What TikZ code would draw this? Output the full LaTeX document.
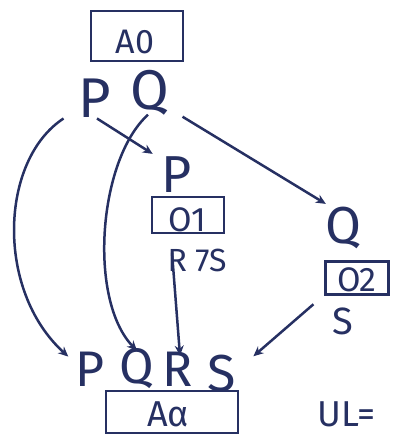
\documentclass[tikz,border=0pt]{standalone}
\usepackage{fontspec}
\setmainfont{Fira Sans}
\usetikzlibrary{arrows.meta}
\definecolor{ink}{RGB}{38,48,98}
\tikzset{
  lbl/.style={text=ink, inner sep=1pt},
  frame/.style={draw=ink, line width=2.5pt, inner sep=0pt},
  arr/.style={draw=ink, line width=2.5pt, -{Stealth[length=10pt,width=9pt]}},
}
\begin{document}
\begin{tikzpicture}[x=1pt,y=-1pt]
\useasboundingbox (0,0) rectangle (396,437);
% top box
\node[frame, minimum width=92pt, minimum height=50pt] (a0box) at (137,36) {};
\node[lbl, font=\fontsize{34}{36}\selectfont] (a0) at (135,42) {A0};
\node[lbl, font=\fontsize{56}{58}\selectfont] (pt) at (95,98) {P};
\node[lbl, font=\fontsize{56}{58}\selectfont] (qt) at (150,93) {Q};
% middle
\node[lbl, font=\fontsize{52}{54}\selectfont] (p2) at (177,175) {P};
\node[frame, minimum width=72pt, minimum height=36pt] (o1box) at (188,215) {};
\node[lbl, font=\fontsize{34}{36}\selectfont] (o1) at (187,220) {O1};
\node[lbl, font=\fontsize{32}{34}\selectfont] (r7s) at (197,260) {R 7S};
% right
\node[lbl, font=\fontsize{52}{54}\selectfont] (q2) at (343,228) {Q};
\node[frame, minimum width=63pt, minimum height=33pt] (o2box) at (357,278) {};
\node[lbl, font=\fontsize{34}{36}\selectfont] (o2) at (357,280) {O2};
\node[lbl, font=\fontsize{38}{40}\selectfont] (s2) at (343,321) {S};
% bottom
\node[lbl, font=\fontsize{50}{52}\selectfont] (pb) at (90,369) {P};
\node[lbl, font=\fontsize{50}{52}\selectfont] (qb) at (137,369) {Q};
\node[lbl, font=\fontsize{50}{52}\selectfont] (rb) at (178,369) {R};
\node[lbl, font=\fontsize{52}{54}\selectfont] (sb) at (222,374) {S};
\node[frame, minimum width=132pt, minimum height=42pt] (aabox) at (172,412) {};
\node[lbl, font=\fontsize{36}{38}\selectfont] (aa) at (168,414) {Aα};
\node[lbl, font=\fontsize{36}{38}\selectfont, anchor=west] (ul) at (316,414) {UL=};
% connectors
\draw[arr] ([xshift=2pt]pt.south) -- ([xshift=-8pt,yshift=2pt]p2.north west);
\draw[arr] ([xshift=12pt]qt.south east) -- ([xshift=2pt,yshift=2pt]q2.north west);
\draw[arr] ([xshift=-14pt]pt.south west) .. controls (0,160) and (-5,290) .. ([xshift=-6pt,yshift=-6pt]pb.north west);
\draw[arr] ([xshift=-2pt,yshift=2pt]qt.south) .. controls (98,160) and (88,300) .. ([yshift=-3pt]qb.north);
\draw[arr] ([xshift=-25pt,yshift=20pt]r7s.south) -- ([xshift=2pt,yshift=-5pt]rb.north);
\draw[arr] ([xshift=-18pt,yshift=2pt]s2.north west) -- ([xshift=16pt,yshift=-2pt]sb.north east);
\end{tikzpicture}
\end{document}
